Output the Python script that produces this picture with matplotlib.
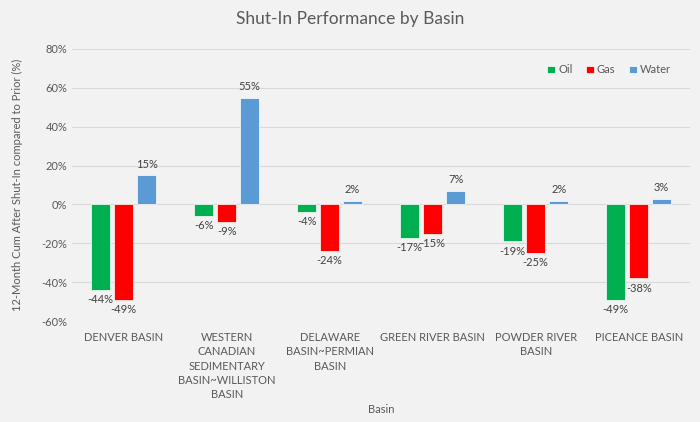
import numpy as np
import matplotlib.pyplot as plt
from matplotlib.ticker import FuncFormatter

plt.rcParams['font.family'] = ['Lato', 'DejaVu Sans']

basins = ["DENVER BASIN", "WESTERN\nCANADIAN\nSEDIMENTARY\nBASIN~WILLISTON\nBASIN",
          "DELAWARE\nBASIN~PERMIAN\nBASIN", "GREEN RIVER BASIN", "POWDER RIVER\nBASIN",
          "PICEANCE BASIN"]
oil = [-44, -6, -4, -17, -19, -49]
gas = [-49, -9, -24, -15, -25, -38]
water = [15, 55, 2, 7, 2, 3]

series = [("Oil", oil, "#00b050"), ("Gas", gas, "#ff0000"), ("Water", water, "#5b9bd5")]

bg = "#f2f2f2"
txt = "#595959"
fs = 8
fig = plt.figure(figsize=(7, 4.22), dpi=100, facecolor=bg)
ax = fig.add_axes([0.103, 0.239, 0.883, 0.645], facecolor=bg)

x = np.arange(len(basins))
width = 0.185
step = 0.223
for i, (name, vals, col) in enumerate(series):
    pos = x + (i - 1) * step
    bars = ax.bar(pos, vals, width, color=col, label=name, edgecolor="white",
                  linewidth=0.5, zorder=3)
    for b, v in zip(bars, vals):
        cx = b.get_x() + b.get_width() / 2
        if v >= 0:
            ax.annotate(f"{v}%", (cx, v), xytext=(0, 4), textcoords="offset points",
                        ha="center", va="bottom", fontsize=fs, color="#404040")
        else:
            ax.annotate(f"{v}%", (cx, v), xytext=(0, -3), textcoords="offset points",
                        ha="center", va="top", fontsize=fs, color="#404040")

ax.set_ylim(-60, 80)
ax.set_xlim(-0.5, len(basins) - 0.5)
ax.set_yticks(np.arange(-60, 81, 20))
ax.yaxis.set_major_formatter(FuncFormatter(lambda v, p: f"{int(v)}%"))
ax.grid(axis="y", color="#d9d9d9", linewidth=0.8, zorder=0)
for s in ax.spines.values():
    s.set_visible(False)
ax.tick_params(length=0, colors=txt, labelsize=fs)
ax.set_xticks(x)
ax.set_xticklabels(basins, fontsize=fs, color=txt, va="top", linespacing=1.35)
ax.tick_params(axis="x", pad=8)

ax.set_xlabel("Basin", fontsize=fs, color=txt)
ax.xaxis.set_label_coords(0.5, -0.305)
ax.set_ylabel("12-Month Cum After Shut-In compared to Prior (%)", fontsize=fs,
              color=txt, labelpad=13)
fig.suptitle("Shut-In Performance by Basin", fontsize=12.5, color="#595959", y=0.975)

leg = ax.legend(loc="upper right", ncol=3, frameon=False, fontsize=fs,
                handlelength=0.7, handleheight=0.7, handletextpad=0.3,
                columnspacing=1.2, bbox_to_anchor=(0.985, 0.98))
for t in leg.get_texts():
    t.set_color(txt)

fig.savefig("out.png", dpi=100, facecolor=bg)
